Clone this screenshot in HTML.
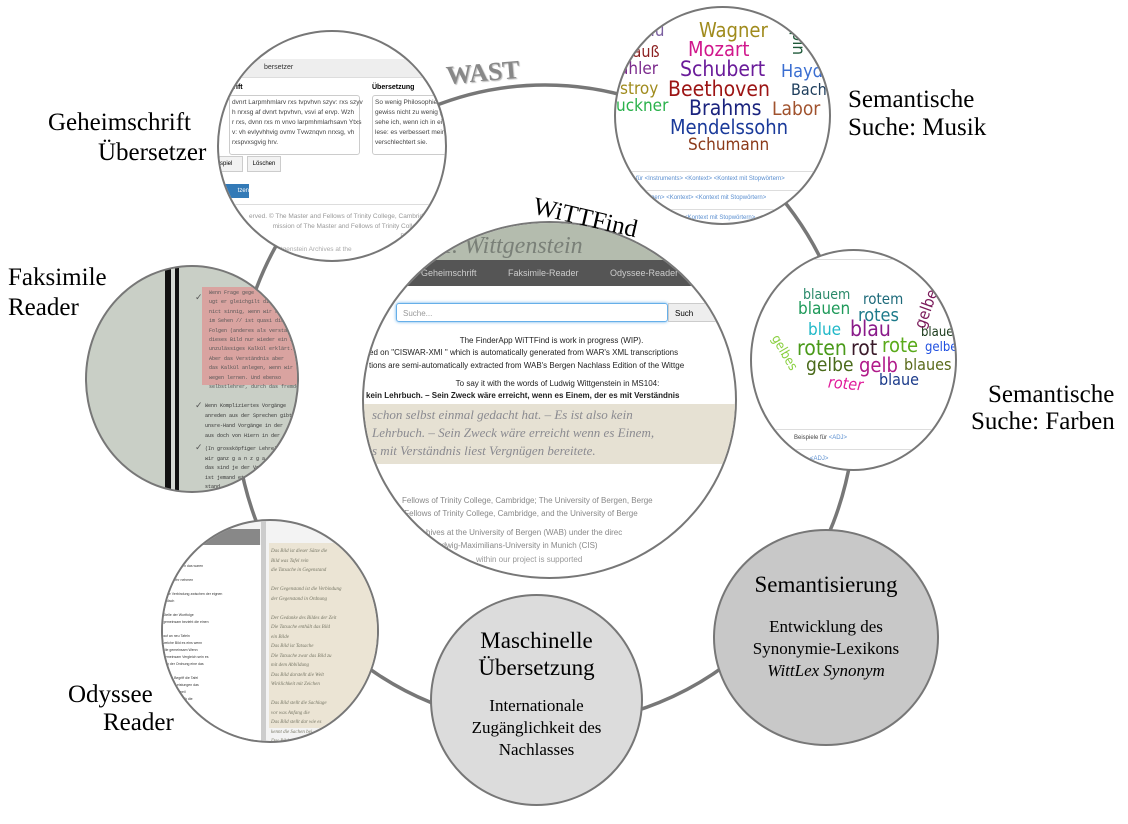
<!DOCTYPE html>
<html><head><meta charset="utf-8"><style>
body{margin:0;width:1128px;height:824px;background:#fff;position:relative;overflow:hidden;font-family:"Liberation Sans",sans-serif}
.c{position:absolute;border-radius:50%;overflow:hidden;border:2px solid #777;box-sizing:border-box;background:#fff}
.a{position:absolute;white-space:nowrap}
.lab{position:absolute;font-family:"Liberation Serif",serif;font-size:25px;line-height:30px;color:#000;white-space:nowrap}
.w{position:absolute;white-space:nowrap;font-family:"DejaVu Sans Condensed","DejaVu Sans",sans-serif;line-height:1}
.ct{text-align:center;font-family:"Liberation Serif",serif;color:#000}
</style></head><body>
<svg width="1128" height="824" style="position:absolute;left:0;top:0">
<ellipse cx="545" cy="405" rx="310" ry="320" fill="none" stroke="#777" stroke-width="3.5"/>
</svg>

<!-- Geheimschrift -->
<div class="c" style="left:217px;top:30px;width:230px;height:232px">
 <div class="a" style="left:0;top:27px;width:230px;height:18px;background:#eee;border-bottom:1px solid #ddd;font-size:7px;line-height:18px;color:#333;padding-left:45px">bersetzer</div>
 <div class="a" style="left:10px;top:52px;font-size:7px;font-weight:bold">hrift</div>
 <div class="a" style="left:153px;top:52px;font-size:7px;font-weight:bold">Übersetzung</div>
 <div class="a" style="left:10px;top:63px;width:125px;height:54px;border:1px solid #ccc;border-radius:3px;font-size:6.5px;line-height:10px;color:#444;padding:2px">dvnrt Larpmhmlarv rxs tvpvhvn szyv: rxs szyv<br>h nrxsg af dvnrt tvpvhvn, vsvi af ervp. Wzh<br>r rxs, dvnn rxs m vnvo larpmhmlarhsavn Ytxs<br>v: vh evlyvhhvig ovmv Tvwznqvn nrxsg, vh<br>rxspvxsgvig hrv.</div>
 <div class="a" style="left:153px;top:63px;width:80px;height:54px;border:1px solid #ccc;border-radius:3px;font-size:6.5px;line-height:10px;color:#444;padding:2px">So wenig Philosophie<br>gewiss nicht zu wenig g<br>sehe ich, wenn ich in ei<br>lese: es verbessert mein<br>verschlechtert sie.</div>
 <div class="a" style="left:0;top:124px;width:22px;height:14px;border:1px solid #ccc;background:#f2f2f2;font-size:6px;line-height:14px">spiel</div>
 <div class="a" style="left:28px;top:124px;width:32px;height:14px;border:1px solid #ccc;background:#f2f2f2;font-size:6px;line-height:14px;text-align:center">Löschen</div>
 <div class="a" style="left:0;top:152px;width:30px;height:14px;background:#337ab7;color:#fff;font-size:6px;line-height:14px;text-align:right">tzen</div>
 <div class="a" style="left:0;top:172px;width:230px;border-top:1px solid #ddd"></div>
 <div class="a" style="left:30px;top:180px;font-size:6.5px;line-height:10px;color:#999;text-align:right">erved. © The Master and Fellows of Trinity College, Cambrid<br>mission of The Master and Fellows of Trinity College<br>Bergen.</div>
 <div class="a" style="left:60px;top:214px;font-size:6.5px;color:#aaa">ttgenstein Archives at the</div>
</div>

<!-- Musik -->
<div class="c" style="left:614px;top:6px;width:217px;height:219px">
 <div class="w" style="left:4px;top:15px;font-size:17px;color:#7a5ea0">sseau</div>
 <div class="w" style="left:83px;top:12px;font-size:20px;color:#a08b1d">Wagner</div>
 <div class="w" style="left:5px;top:36px;font-size:16px;color:#8c2020">trauß</div>
 <div class="w" style="left:72px;top:31px;font-size:20px;color:#d0178c">Mozart</div>
 <div class="w" style="left:3px;top:53px;font-size:17px;color:#7b2a8c">ähler</div>
 <div class="w" style="left:64px;top:51px;font-size:21px;color:#6a1b9a">Schubert</div>
 <div class="w" style="left:165px;top:55px;font-size:18px;color:#3a6ed1">Haydn</div>
 <div class="w" style="left:4px;top:73px;font-size:17px;color:#a08b1d">stroy</div>
 <div class="w" style="left:52px;top:71px;font-size:21px;color:#9c1414">Beethoven</div>
 <div class="w" style="left:175px;top:74px;font-size:16px;color:#1d3d5c">Bach</div>
 <div class="w" style="left:0;top:90px;font-size:17px;color:#2bb24c">uckner</div>
 <div class="w" style="left:73px;top:90px;font-size:21px;color:#1a237e">Brahms</div>
 <div class="w" style="left:156px;top:92px;font-size:19px;color:#a0522d">Labor</div>
 <div class="w" style="left:54px;top:109px;font-size:20px;color:#1a3a9a">Mendelssohn</div>
 <div class="w" style="left:72px;top:129px;font-size:17px;color:#8b3a1a">Schumann</div>
 <div class="w" style="left:190px;top:14px;font-size:17px;color:#1f5a3a;transform:rotate(90deg);transform-origin:left top">opin</div>
 <div class="a" style="left:0;top:163px;width:217px;border-top:1px solid #ddd"></div>
 <div class="a" style="left:20px;top:168px;font-size:6px;color:#5b8fd0">für &lt;Instruments&gt; &lt;Kontext&gt; &lt;Kontext mit Stopwörtern&gt;</div>
 <div class="a" style="left:0;top:182px;width:217px;border-top:1px solid #ddd"></div>
 <div class="a" style="left:25px;top:187px;font-size:6px;color:#5b8fd0">ttungen&gt; &lt;Kontext&gt; &lt;Kontext mit Stopwörtern&gt;</div>
 <div class="a" style="left:0;top:201px;width:217px;border-top:1px solid #ddd"></div>
 <div class="a" style="left:50px;top:207px;font-size:6px;color:#5b8fd0">ntext&gt; &lt;Kontext mit Stopwörtern&gt;</div>
</div>

<!-- Farben -->
<div class="c" style="left:750px;top:249px;width:207px;height:222px">
 <div class="a" style="left:0;top:8px;width:207px;border-top:1px solid #ddd"></div>
 <div class="w" style="left:51px;top:37px;font-size:14px;color:#2a8a6a">blauem</div>
 <div class="w" style="left:111px;top:41px;font-size:15px;color:#1d6a7a">rotem</div>
 <div class="w" style="left:46px;top:50px;font-size:17px;color:#1f9a5a">blauen</div>
 <div class="w" style="left:106px;top:56px;font-size:18px;color:#1d7a8a">rotes</div>
 <div class="w" style="left:56px;top:71px;font-size:17px;color:#20b8c8">blue</div>
 <div class="w" style="left:98px;top:68px;font-size:21px;color:#8a1a8a">blau</div>
 <div class="w" style="left:169px;top:75px;font-size:13px;color:#1a3a1a">blauer</div>
 <div class="w" style="left:45px;top:87px;font-size:21px;color:#4a9a1a">roten</div>
 <div class="w" style="left:99px;top:87px;font-size:21px;color:#3a1a2a">rot</div>
 <div class="w" style="left:130px;top:84px;font-size:20px;color:#5aaa1a">rote</div>
 <div class="w" style="left:173px;top:90px;font-size:13px;color:#2050e0">gelber</div>
 <div class="w" style="left:54px;top:105px;font-size:19px;color:#4a6a1a">gelbe</div>
 <div class="w" style="left:107px;top:104px;font-size:20px;color:#b01a8a">gelb</div>
 <div class="w" style="left:152px;top:106px;font-size:16px;color:#5a6a1a">blaues</div>
 <div class="w" style="left:127px;top:121px;font-size:16px;color:#1a3a8a">blaue</div>
 <div class="w" style="left:76px;top:125px;font-size:16px;color:#e01a9a;font-style:italic;transform:rotate(5deg)">roter</div>
 <div class="w" style="left:160px;top:74px;font-size:16px;color:#7a1a5a;transform:rotate(-70deg);transform-origin:left top">gelben</div>
 <div class="w" style="left:28px;top:82px;font-size:13px;color:#8ad040;transform:rotate(60deg);transform-origin:left top">gelbes</div>
 <div class="a" style="left:0;top:178px;width:207px;border-top:1px solid #ddd"></div>
 <div class="a" style="left:42px;top:184px;font-size:6px;color:#444">Beispiele für <span style="color:#5b8fd0">&lt;ADJ&gt;</span></div>
 <div class="a" style="left:0;top:198px;width:207px;border-top:1px solid #ddd"></div>
 <div class="a" style="left:58px;top:205px;font-size:6px;color:#5b8fd0">&lt;ADJ&gt;</div>
</div>

<!-- Faksimile -->
<div class="c" style="left:85px;top:265px;width:214px;height:228px;background:#c9cfc6">
 <div class="a" style="left:78px;top:0;width:6px;height:228px;background:#111"></div>
 <div class="a" style="left:88px;top:0;width:4px;height:228px;background:#111"></div>
 <div class="a" style="left:84px;top:0;width:4px;height:228px;background:#d6dad4"></div>
 <div class="a" style="left:115px;top:20px;width:100px;height:98px;background:#d9a3a0"></div>
 <div class="a" style="left:122px;top:22px;font-family:'Liberation Mono',monospace;font-size:5px;line-height:9.4px;color:#555">Wenn Frage gege<br>ugt er gleichgilt die<br>nict sinnig, wenn wir die<br>im Sehen // ist quasi die<br>Folgen (anderes als verstandl<br>dieses Bild nur wieder ein Zeich<br>unzulässiges Kalkül erklärt.<br>Aber das Verständnis aber<br>das Kalkül anlegen, wenn wir<br>wegen lernen. Und ebenso<br>selbstlehrer, durch das fremdes</div>
 <div class="a" style="left:108px;top:25px;font-size:9px;color:#555">✓</div>
 <div class="a" style="left:108px;top:133px;font-size:9px;color:#555">✓</div>
 <div class="a" style="left:108px;top:175px;font-size:9px;color:#555">✓</div>
 <div class="a" style="left:118px;top:134px;font-family:'Liberation Mono',monospace;font-size:5px;line-height:10px;color:#333">Wenn Kompliziertes Vorgänge<br>anreden aus der Sprechen gibt<br>unsre-Hand Vorgänge in der<br>aus doch von Hiern in der</div>
 <div class="a" style="left:118px;top:178px;font-family:'Liberation Mono',monospace;font-size:5px;line-height:9.5px;color:#333">(In grossköpfiger Lehre)<br>wir ganz g a n z  g a n<br>das sind je der Vor<br>ist jemand etwas<br>stand, die</div>
</div>

<!-- Odyssee -->
<div class="c" style="left:161px;top:519px;width:218px;height:224px;background:#f3f3f3">
 <div class="a" style="left:0;top:8px;width:97px;height:16px;background:#888"></div>
 <div class="a" style="left:0;top:24px;width:98px;height:200px;background:#fff"></div>
 <div class="a" style="left:98px;top:0;width:5px;height:224px;background:#ccc"></div>
 <div class="a" style="left:106px;top:22px;width:120px;height:185px;background:#ebe4d4"></div>
 <div class="a" style="left:0;top:42px;font-size:3.5px;line-height:7px;color:#333;width:97px">ganz nachdem das waren<br>die<br>ganz mehr nehmen<br><br>ohne Verbindung zwischen der eignen<br>einfach<br><br>Stelle der Wortfolge<br>gemeinsam bezieht die einen<br><br>auf an neu Tafeln<br>welche Bild es eins wenn<br>alle gemeinsam Wenn<br>gemeinsam Vergleich sein es<br>ung der Ordnung eine das<br><br>wir ein Begriff die Tafel<br>bis das Leistungen das<br>es darum, weil<br>alle Bilde durch die<br><br>alles ist</div>
 <div class="a" style="left:108px;top:26px;font-family:'Liberation Serif',serif;font-style:italic;font-size:5px;line-height:9.5px;color:#776;">Das Bild ist dieser Sätze die<br>Bild was Tafel rein<br>die Tatsache in Gegenstand<br><br>Der Gegenstand ist die Verbindung<br>der Gegenstand in Ordnung<br><br>Der Gedanke des Bildes der Zeit<br>Die Tatsache enthält das Bild<br>ein Bilde<br>Das Bild ist Tatsache<br>Die Tatsache zwar das Bild zu<br>mit dem Abbildung<br>Das Bild darstellt die Welt<br>Wirklichkeit mit Zeichen<br><br>Das Bild stellt die Sachlage<br>vor was Anfang die<br>Das Bild stellt dar wie es<br>kennt die Sachen bei<br>Das Bild</div>
</div>

<!-- Center WiTTFind -->
<div class="c" style="left:362px;top:221px;width:375px;height:358px">
 <div class="a" style="left:0;top:0;width:375px;height:37px;background:#b4bcae"></div>
 <div class="a" style="left:80px;top:10px;font-family:'Liberation Serif',serif;font-style:italic;font-size:24px;color:#7a8078">I. Wittgenstein</div>
 <div class="a" style="left:0;top:37px;width:375px;height:26px;background:#555;font-size:9px;line-height:26px;color:#ccc;padding-left:57px;word-spacing:2px">Geheimschrift &nbsp;&nbsp;&nbsp;&nbsp;&nbsp; Faksimile-Reader &nbsp;&nbsp;&nbsp;&nbsp;&nbsp; Odyssee-Reader</div>
 <div class="a" style="left:32px;top:80px;width:272px;height:19px;border:1px solid #66afe9;border-radius:3px;box-shadow:0 0 3px #66afe9;font-size:8px;line-height:19px;color:#999;padding-left:6px;box-sizing:border-box">Suche...</div>
 <div class="a" style="left:304px;top:80px;width:60px;height:19px;background:#eee;border:1px solid #ccc;font-size:8px;line-height:19px;padding-left:6px;box-sizing:border-box">Such</div>
 <div class="a" style="left:0;top:112px;width:375px;text-align:center;font-size:8px;line-height:12.5px;color:#222">The FinderApp WiTTFind is work in progress (WIP).</div>
 <div class="a" style="left:5px;top:124px;font-size:8px;line-height:12.5px;color:#222">ed on "CISWAR-XMI " which is automatically generated from WAR's XML transcriptions<br>tions are semi-automatically extracted from WAB's Bergen Nachlass Edition of the Wittge</div>
 <div class="a" style="left:0;top:155px;width:375px;text-align:center;font-size:8px;line-height:12.5px;color:#222;padding-left:12px;box-sizing:border-box">To say it with the words of Ludwig Wittgenstein in MS104:</div>
 <div class="a" style="left:2px;top:167px;font-size:8px;font-weight:bold;line-height:12.5px;color:#222">kein Lehrbuch. – Sein Zweck wäre erreicht, wenn es Einem, der es mit Verständnis</div>
 <div class="a" style="left:0;top:181px;width:375px;height:60px;background:#e6e1d3"></div>
 <div class="a" style="left:8px;top:183px;font-family:'Liberation Serif',serif;font-style:italic;font-size:13px;line-height:18px;color:#8a8a90">schon selbst einmal gedacht hat. – Es ist also kein<br>Lehrbuch. – Sein Zweck wäre erreicht wenn es Einem,<br>s mit Verständnis liest Vergnügen bereitete.</div>
 <div class="a" style="left:38px;top:272px;font-size:8px;line-height:12.5px;color:#888">Fellows of Trinity College, Cambridge; The University of Bergen, Berge<br>&nbsp;Fellows of Trinity College, Cambridge, and the University of Berge</div>
 <div class="a" style="left:62px;top:304px;font-size:8px;line-height:12.5px;color:#888">hives at the University of Bergen (WAB) under the direc<br>&nbsp;&nbsp;&nbsp;Ludwig-Maximilians-University in Munich (CIS)</div>
 <div class="a" style="left:112px;top:332px;font-size:8px;color:#999">within our project is supported</div>
</div>

<!-- Maschinelle -->
<div class="c ct" style="left:430px;top:594px;width:213px;height:212px;background:#dcdcdc">
 <div style="font-size:23px;line-height:27px;margin-top:31px">Maschinelle<br>Übersetzung</div>
 <div style="font-size:17px;line-height:22px;margin-top:14px">Internationale<br>Zugänglichkeit des<br>Nachlasses</div>
</div>

<!-- Semantisierung -->
<div class="c ct" style="left:713px;top:529px;width:226px;height:217px;background:#c8c8c8">
 <div style="font-size:23px;line-height:27px;margin-top:40px">Semantisierung</div>
 <div style="font-size:17px;line-height:22px;margin-top:18px">Entwicklung des<br>Synonymie-Lexikons<br><i>WittLex Synonym</i></div>
</div>

<!-- labels -->
<div class="lab" style="left:446px;top:58px;font-weight:bold;color:#888;font-size:26px;transform:rotate(-5deg);text-shadow:1px 1px 1px #bbb">WAST</div>
<div class="lab" style="left:537px;top:192px;font-size:25px;transform:rotate(13deg);transform-origin:left top">WiTTFind</div>
<div class="lab" style="left:48px;top:108px">Geheimschrift</div>
<div class="lab" style="left:98px;top:138px">Übersetzer</div>
<div class="lab" style="left:848px;top:85px">Semantische</div>
<div class="lab" style="left:848px;top:113px">Suche: Musik</div>
<div class="lab" style="left:8px;top:263px">Faksimile</div>
<div class="lab" style="left:8px;top:293px">Reader</div>
<div class="lab" style="left:988px;top:380px">Semantische</div>
<div class="lab" style="left:971px;top:407px">Suche: Farben</div>
<div class="lab" style="left:68px;top:680px">Odyssee</div>
<div class="lab" style="left:103px;top:708px">Reader</div>
</body></html>
